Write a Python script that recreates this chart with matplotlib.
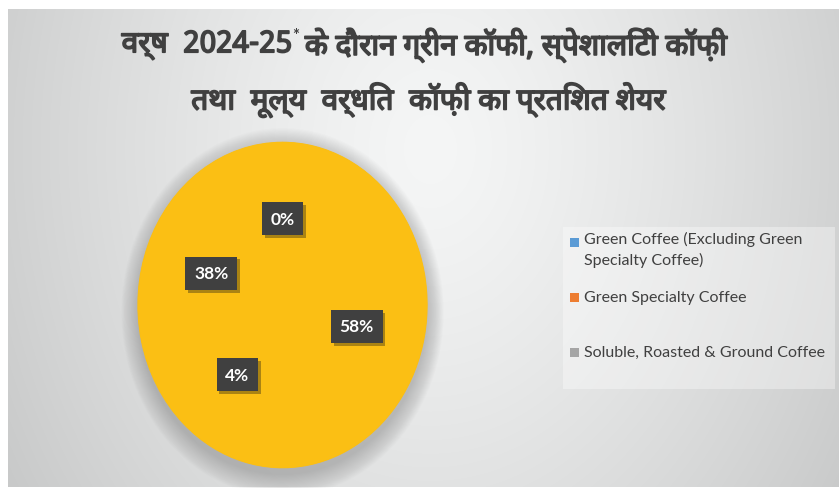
import numpy as np
import matplotlib
matplotlib.use("Agg")
import matplotlib.pyplot as plt
import matplotlib.patheffects as pe
from matplotlib.patches import Ellipse, Rectangle

# share of each coffee type, drawn clockwise from the top
slice_values = [0, 58, 4, 38]
slice_color = "#FBBF14"

legend_labels = [
    "Green Coffee (Excluding Green\nSpecialty Coffee)",
    "Green Specialty Coffee",
    "Soluble, Roasted & Ground Coffee",
]
legend_colors = ["#5B9BD5", "#ED7D31", "#A5A5A5"]

title_line1_a = "वर्ष  2024-25"
title_line1_b = "के दौरान ग्रीन कॉफी, स्पेशालिटी कॉफ़ी"
title_line2 = "तथा  मूल्य  वर्धित  कॉफ़ी का प्रतिशत शेयर"

W, H = 839, 489
hindi_font = ["Noto Sans Devanagari", "Noto Sans", "DejaVu Sans"]
latin_font = ["Lato", "DejaVu Sans"]

fig = plt.figure(figsize=(W / 100, H / 100), dpi=100)
fig.patch.set_facecolor("white")


def px(x, y):
    # pixel position (from top-left) -> figure fraction
    return x / W, 1 - y / H


# radial gray background
bg = fig.add_axes([8 / W, 1 / H, (W - 8) / W, (H - 11) / H])
bg.axis("off")
yy, xx = np.mgrid[10:488, 8:W]
d = np.sqrt((xx - 430) ** 2 + ((yy - 150) / 1.3) ** 2)
v = 245 - 48 * np.clip(d / 520, 0, 1.3) ** 1.3
img = np.dstack([v, v + 1, v + 1]).clip(0, 255) / 255
bg.imshow(img, aspect="auto", extent=(0, 1, 0, 1))
bg.set_xlim(0, 1)
bg.set_ylim(0, 1)

# pie, stretched into the slightly tall ellipse
left, top, right, bottom = 135, 140, 430, 472
ax = fig.add_axes([left / W, 1 - bottom / H, (right - left) / W, (bottom - top) / H])

# soft shadow around the pie, heavier underneath
for i in range(20):
    grow = 0.006 * i
    ax.add_patch(Ellipse((0.0, -0.045), 2 + 2 * grow, 2 + 2.3 * grow,
                         facecolor="#6a6a6a", alpha=0.02, edgecolor="none",
                         zorder=0, clip_on=False))
# base disc so no seams show between wedges
ax.add_patch(Ellipse((0, 0), 2, 2, facecolor=slice_color, edgecolor="none", zorder=1))

wedges, texts, autotexts = ax.pie(
    slice_values,
    colors=[slice_color] * len(slice_values),
    startangle=90,
    counterclock=False,
    autopct="%1.0f%%",
    pctdistance=0.53,
    wedgeprops=dict(edgecolor=slice_color, linewidth=0.8),
    textprops=dict(color="white", fontsize=12.5, fontweight="bold", family=latin_font),
)
for w in wedges:
    w.set_zorder(2)
for t in autotexts:
    t.set_zorder(5)
    t.set_bbox(dict(boxstyle="square,pad=0.5", facecolor="#404040", edgecolor="none"))
    t.get_bbox_patch().set_path_effects(
        [pe.SimplePatchShadow(offset=(2, -2), alpha=0.35), pe.Normal()])
ax.set_xlim(-1.02, 1.02)
ax.set_ylim(-1.02, 1.02)
ax.set_aspect("auto")
ax.axis("off")

# legend panel
x0, y0 = px(563, 390)
x1, y1 = px(835, 228)
fig.patches.append(Rectangle((x0, y0), x1 - x0, y1 - y0, transform=fig.transFigure,
                             facecolor="white", alpha=0.35, edgecolor="none", zorder=1))
legend_y = [243, 298, 353]
for lab, col, ly in zip(legend_labels, legend_colors, legend_y):
    sx, sy = px(570, ly + 5)
    fig.patches.append(Rectangle((sx, sy), 9 / W, 9 / H, transform=fig.transFigure,
                                 facecolor=col, edgecolor="none", zorder=3))
    tx, ty = px(584, ly)
    t = fig.text(tx, ty, lab, fontsize=11.5, color="#404040", family=latin_font,
                 va="center", ha="left", linespacing=1.45)
    if "\n" in lab:
        # keep first line level with the square
        t.set_va("top")
        t.set_y(px(0, 232)[1])

# title: first line with a raised asterisk after the year
bold = [pe.withStroke(linewidth=1.2, foreground="#404040")]
title_kw = dict(fontsize=21.5, fontweight="bold", color="#404040", family=hindi_font,
                path_effects=bold)
ta = fig.text(0, px(0, 46)[1], title_line1_a, va="center", ha="left", **title_kw)
ts = fig.text(0, px(0, 36)[1], "*", fontsize=12, fontweight="bold", color="#404040",
              va="center", ha="left", family=latin_font)
tb = fig.text(0, px(0, 46)[1], title_line1_b, va="center", ha="left", **title_kw)
fig.text(px(429, 0)[0], px(0, 101)[1], title_line2, va="center", ha="center", **title_kw)

fig.canvas.draw()
r = fig.canvas.get_renderer()
wa = ta.get_window_extent(r).width
ws = ts.get_window_extent(r).width
wb = tb.get_window_extent(r).width
gap = 6
total = wa + ws + gap + wb
start = 425 - total / 2
ta.set_x(start / W)
ts.set_x((start + wa) / W)
tb.set_x((start + wa + ws + gap) / W)

fig.savefig("out.png", dpi=100, facecolor=fig.get_facecolor())
